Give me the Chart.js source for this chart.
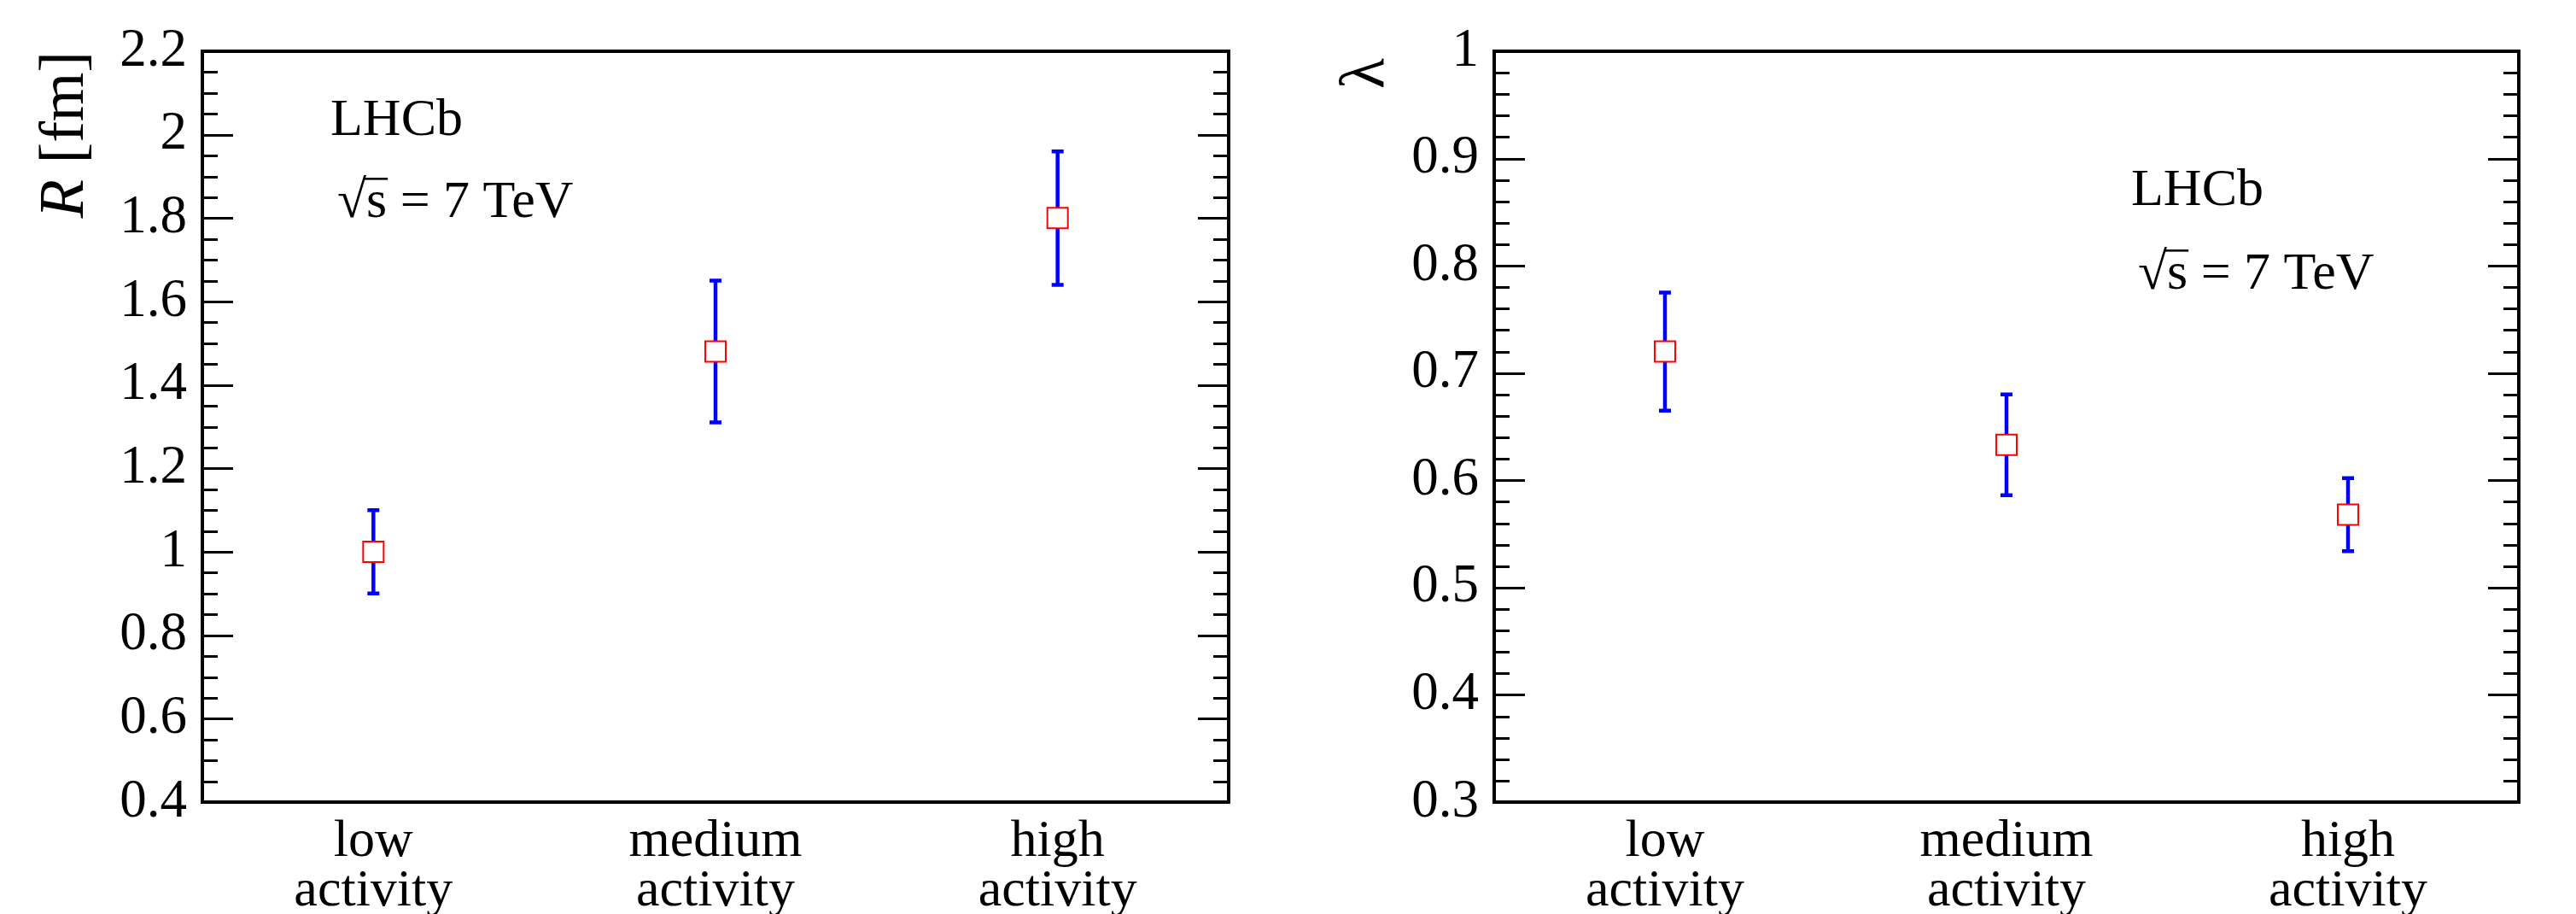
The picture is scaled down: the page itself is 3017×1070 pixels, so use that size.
<!DOCTYPE html>
<html>
<head>
<meta charset="utf-8">
<title>LHCb R and lambda vs activity</title>
<script src="https://cdn.jsdelivr.net/npm/chart.js@4.4.1/dist/chart.umd.min.js"></script>
<style>
  html, body { margin: 0; padding: 0; background: #fff; }
  #wrap { position: relative; width: 3017px; height: 1070px; overflow: hidden; }
  canvas { position: absolute; top: 0; }
  #chartR { left: 0; }
  #chartLambda { left: 1560px; }
</style>
</head>
<body>
<div id="wrap">
  <canvas id="chartR" width="1560" height="1070"></canvas>
  <canvas id="chartLambda" width="1457" height="1070"></canvas>
</div>
<script>
"use strict";

// categories (two-line tick labels)
var categories = [['low', 'activity'], ['medium', 'activity'], ['high', 'activity']];

// left panel: radius R [fm]
var rValues = [1.00, 1.48, 1.80];
var rErrors = [0.10, 0.17, 0.16];
var rTicks = [0.4, 0.6, 0.8, 1, 1.2, 1.4, 1.6, 1.8, 2, 2.2];

// right panel: chaoticity lambda
var lambdaValues = [0.72, 0.633, 0.568];
var lambdaErrors = [0.055, 0.047, 0.034];
var lambdaTicks = [0.3, 0.4, 0.5, 0.6, 0.7, 0.8, 0.9, 1];

var FONT = "'Liberation Serif', 'DejaVu Serif', serif";

// blue vertical error bars with small caps, drawn under the markers
var errorBars = {
    id: 'errorBars',
    beforeDatasetsDraw: function (chart, args, opts) {
        var ctx = chart.ctx, xs = chart.scales.x, ys = chart.scales.y;
        ctx.save();
        ctx.strokeStyle = '#0000ff';
        ctx.lineWidth = 4.5;
        chart.data.datasets[0].data.forEach(function (v, i) {
            var px = xs.getPixelForValue(i),
                top = ys.getPixelForValue(v + opts.errors[i]),
                bot = ys.getPixelForValue(v - opts.errors[i]);
            ctx.beginPath();
            ctx.moveTo(px, top); ctx.lineTo(px, bot);
            ctx.moveTo(px - 7, top); ctx.lineTo(px + 7, top);
            ctx.moveTo(px - 7, bot); ctx.lineTo(px + 7, bot);
            ctx.stroke();
        });
        ctx.restore();
    }
};

// ROOT-like frame with inward major/minor ticks on both y sides
var rootFrame = {
    id: 'rootFrame',
    afterDatasetsDraw: function (chart, args, opts) {
        var ctx = chart.ctx, a = chart.chartArea, ys = chart.scales.y,
            vals = ys.ticks.map(function (t) { return t.value; });

        function mark(v, len) {
            var py = Math.round(ys.getPixelForValue(v)) + 0.5;
            ctx.moveTo(a.left, py); ctx.lineTo(a.left + len, py);
            ctx.moveTo(a.right, py); ctx.lineTo(a.right - len, py);
        }

        ctx.save();
        ctx.strokeStyle = '#000';
        ctx.lineWidth = 3;
        ctx.beginPath();
        vals.forEach(function (v, i) {
            mark(v, 36);
            if (i < vals.length - 1) {
                var step = (vals[i + 1] - v) / opts.minor;
                for (var k = 1; k < opts.minor; k++) {
                    mark(v + k * step, 18);
                }
            }
        });
        ctx.stroke();
        ctx.lineWidth = 4;
        ctx.strokeRect(a.left, a.top, a.right - a.left, a.bottom - a.top);
        ctx.restore();
    }
};

// axis title (rotated, end-aligned at the top) and the LHCb labels
var rootText = {
    id: 'rootText',
    afterDraw: function (chart, args, opts) {
        var ctx = chart.ctx, a = chart.chartArea, size = 62;
        ctx.save();
        ctx.fillStyle = '#000';
        ctx.textBaseline = 'alphabetic';

        // y title
        ctx.save();
        ctx.translate(a.left - opts.titleOffset, a.top + opts.titleShift);
        ctx.rotate(-Math.PI / 2);
        var total = 0;
        opts.title.forEach(function (p) {
            ctx.font = (p.italic ? 'italic ' : '') + '74px ' + FONT;
            p.w = ctx.measureText(p.text).width;
            total += p.w;
        });
        var tx = -total;
        opts.title.forEach(function (p) {
            ctx.font = (p.italic ? 'italic ' : '') + '74px ' + FONT;
            ctx.fillText(p.text, tx, 0);
            tx += p.w;
        });
        ctx.restore();

        // LHCb and sqrt(s) = 7 TeV
        ctx.font = size + 'px ' + FONT;
        var x0 = a.left + opts.dx, y0 = a.top + opts.dy;
        ctx.fillText('LHCb', x0, y0);

        var y1 = y0 + opts.gap, x1 = x0 + 8;
        ctx.fillText('\u221A', x1, y1);
        var wr = ctx.measureText('\u221A').width;
        var ws = ctx.measureText('s').width;
        ctx.fillText('s', x1 + wr, y1);
        ctx.fillText(' = 7 TeV', x1 + wr + ws, y1);
        ctx.lineWidth = 2.5;
        ctx.strokeStyle = '#000';
        ctx.beginPath();
        var vy = y1 - 0.72 * size;
        ctx.moveTo(x1 + wr - 3, vy);
        ctx.lineTo(x1 + wr + ws + 1, vy);
        ctx.stroke();
        ctx.restore();
    }
};

function makeChart(id, values, errors, ticks, cfg) {
    return new Chart(document.getElementById(id), {
        type: 'line',
        data: {
            labels: categories,
            datasets: [{
                data: values,
                showLine: false,
                pointStyle: 'rect',
                pointRadius: 17,
                pointHoverRadius: 17,
                pointBorderColor: '#ff0000',
                pointBackgroundColor: '#ffffff',
                pointBorderWidth: 2
            }]
        },
        options: {
            responsive: false,
            animation: false,
            events: [],
            layout: { padding: { top: 60, right: cfg.padRight, left: 0, bottom: 0 } },
            plugins: {
                legend: { display: false },
                tooltip: { enabled: false },
                errorBars: { errors: errors },
                rootFrame: { minor: cfg.minor },
                rootText: {
                    title: cfg.title, titleOffset: cfg.titleOffset, titleShift: cfg.titleShift,
                    dx: cfg.textX, dy: cfg.textY, gap: cfg.textGap
                }
            },
            scales: {
                x: {
                    type: 'category',
                    offset: true,
                    grid: { display: false, drawTicks: false },
                    border: { display: false },
                    ticks: {
                        color: '#000',
                        font: { family: FONT, size: 62, lineHeight: 0.93 },
                        padding: 18,
                        maxRotation: 0,
                        autoSkip: false
                    },
                    afterFit: function (s) { s.height = 131; }
                },
                y: {
                    min: ticks[0],
                    max: ticks[ticks.length - 1],
                    grid: { display: false, drawTicks: false },
                    border: { display: false },
                    ticks: {
                        color: '#000',
                        font: { family: FONT, size: 63 },
                        padding: 18,
                        callback: function (v) { return String(+Number(v).toFixed(2)); }
                    },
                    afterBuildTicks: function (s) {
                        s.ticks = ticks.map(function (v) { return { value: v }; });
                    },
                    afterFit: function (s) { s.width = cfg.axisWidth; }
                }
            }
        },
        plugins: [errorBars, rootFrame, rootText]
    });
}

makeChart('chartR', rValues, rErrors, rTicks, {
    axisWidth: 237, padRight: 121, minor: 4,
    title: [{ text: 'R', italic: true }, { text: ' [fm]' }],
    titleOffset: 140, titleShift: 0,
    textX: 150, textY: 98, textGap: 96
});

makeChart('chartLambda', lambdaValues, lambdaErrors, lambdaTicks, {
    axisWidth: 190, padRight: 67, minor: 5,
    title: [{ text: '\u03BB' }],
    titleOffset: 130, titleShift: 8,
    textX: 746, textY: 180, textGap: 98
});
</script>
</body>
</html>
